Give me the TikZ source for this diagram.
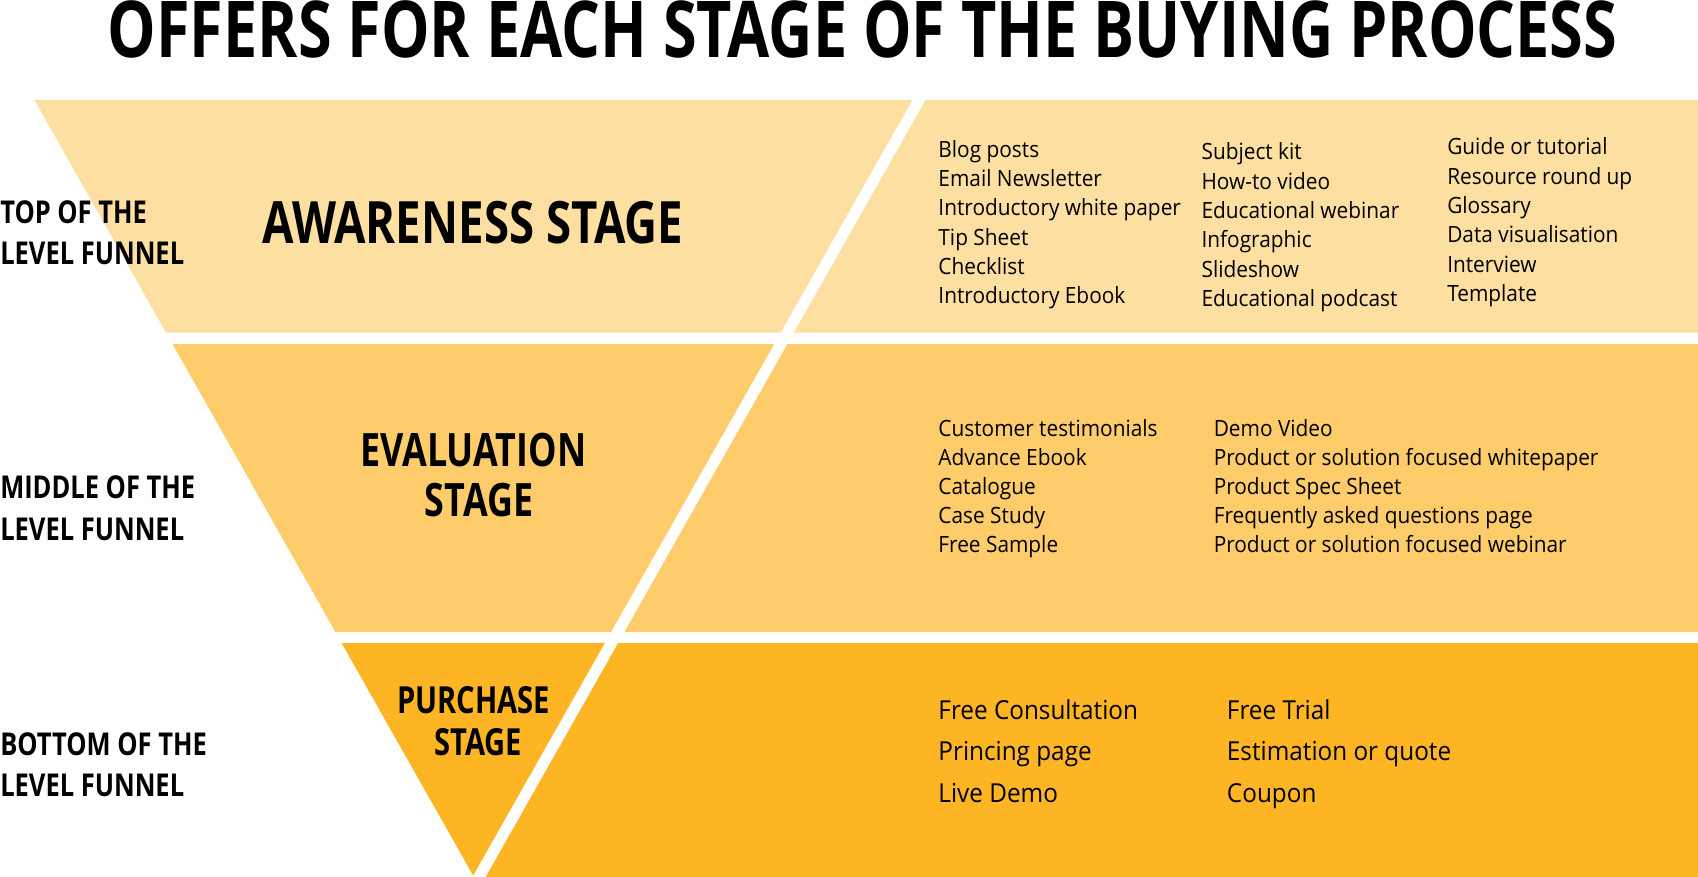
\documentclass[tikz,border=0pt]{standalone}
\usepackage{fontspec}
\setmainfont{Open Sans}
\newfontfamily\headfont[FakeStretch=0.78]{Open Sans}
\newfontfamily\levelfont[FakeStretch=0.81]{Open Sans}
\newfontfamily\listfont[FakeStretch=0.93]{Open Sans}
\definecolor{awareFill}{HTML}{FDDFA1}
\definecolor{evalFill}{HTML}{FECC6B}
\definecolor{buyFill}{HTML}{FDB524}

\tikzset{
  headtext/.style={inner sep=0pt, font=\headfont\bfseries},
  levellabel/.style={headtext, anchor=base west, font=\levelfont\bfseries\fontsize{23.6}{28}\selectfont},
  offer/.style={inner sep=0pt, anchor=base west, font=\listfont\fontsize{16.8}{20}\selectfont},
  bigoffer/.style={offer, font=\listfont\fontsize{19.6}{22}\selectfont},
}

\begin{document}
\begin{tikzpicture}[x=0.75pt, y=-0.75pt]
  \useasboundingbox (0,0) rectangle (1698,877);
  % funnel bands
  \fill[awareFill] (34.5,100) -- (1698,100) -- (1698,332.7) -- (166.1,332.7) -- cycle;
  \fill[evalFill] (172.5,344) -- (1698,344) -- (1698,632) -- (335.4,632) -- cycle;
  \fill[buyFill] (341.6,643) -- (1698,643) -- (1698,877) -- (476.5,881.4) -- cycle;
  \coordinate (splitTop) at (921.8,95); \coordinate (apex) at (476.5,881.4);
  \draw[white, line width=8.5pt] (splitTop) -- (apex);

  % title
  \node[headtext, anchor=base, font=\headfont\bfseries\fontsize{58.8}{60}\selectfont] (title) at (862.5,57.3) {OFFERS FOR EACH STAGE OF THE BUYING PROCESS};

  % level labels
  \node[levellabel] (topA) at (0,223.3) {TOP OF THE};
  \node[levellabel] (topB) at (0,265) {LEVEL FUNNEL};
  \node[levellabel] (midA) at (0,498.3) {MIDDLE OF THE};
  \node[levellabel] (midB) at (0,540) {LEVEL FUNNEL};
  \node[levellabel] (botA) at (0,755) {BOTTOM OF THE};
  \node[levellabel] (botB) at (0,796.7) {LEVEL FUNNEL};

  % stage names
  \node[headtext, anchor=base, font=\headfont\bfseries\fontsize{43.8}{46}\selectfont] (aware) at (473,243.3) {AWARENESS STAGE};
  \node[headtext, anchor=base, font=\headfont\bfseries\fontsize{34.5}{36}\selectfont] (evalA) at (473.3,466.7) {EVALUATION};
  \node[headtext, anchor=base, font=\headfont\bfseries\fontsize{34.5}{36}\selectfont] (evalB) at (479,516.7) {STAGE};
  \node[headtext, anchor=base, font=\headfont\bfseries\fontsize{28}{30}\selectfont] (buyA) at (473.6,713.3) {PURCHASE};
  \node[headtext, anchor=base, font=\headfont\bfseries\fontsize{28}{30}\selectfont] (buyB) at (478,755) {STAGE};

  % awareness offers
  \foreach \t [count=\i from 0] in {Blog posts, Email Newsletter, Introductory white paper, Tip Sheet, Checklist, Introductory Ebook}
    \node[offer] (awA\i) at (938.2,157.3+29.3*\i) {\t};
  \foreach \t [count=\i from 0] in {Subject kit, How-to video, Educational webinar, Infographic, Slideshow, Educational podcast}
    \node[offer] (awB\i) at (1201.3,160+29.3*\i) {\t};
  \foreach \t [count=\i from 0] in {Guide or tutorial, Resource round up, Glossary, Data visualisation, Interview, Template}
    \node[offer] (awC\i) at (1447,155+29.3*\i) {\t};

  % evaluation offers
  \foreach \t [count=\i from 0] in {Customer testimonials, Advance Ebook, Catalogue, Case Study, Free Sample}
    \node[offer] (evA\i) at (938.2,436+29.2*\i) {\t};
  \foreach \t [count=\i from 0] in {Demo Video, Product or solution focused whitepaper, Product Spec Sheet, Frequently asked questions page, Product or solution focused webinar}
    \node[offer] (evB\i) at (1213.5,436+29.2*\i) {\t};

  % purchase offers
  \foreach \t [count=\i from 0] in {Free Consultation, Princing page, Live Demo}
    \node[bigoffer] (buA\i) at (938.2,719+41.7*\i) {\t};
  \foreach \t [count=\i from 0] in {Free Trial, Estimation or quote, Coupon}
    \node[bigoffer] (buB\i) at (1226.7,719+41.7*\i) {\t};
\end{tikzpicture}
\end{document}
